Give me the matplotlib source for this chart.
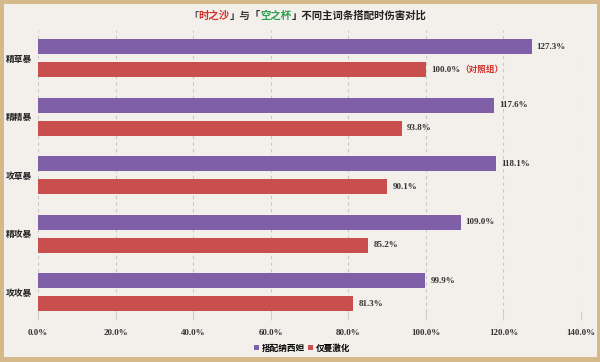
import numpy as np
import matplotlib.pyplot as plt
from matplotlib.patches import Rectangle

plt.rcParams['font.family'] = ['Noto Sans CJK SC', 'DejaVu Sans']

categories = ["精草暴", "精精暴", "攻草暴", "精攻暴", "攻攻暴"]
nahida = [127.3, 117.6, 118.1, 109.0, 99.9]      # 搭配纳西妲
aggravate = [100.0, 93.8, 90.1, 85.2, 81.3]     # 仅蔓激化
xticks = [0, 20, 40, 60, 80, 100, 120, 140]

PURPLE = "#7f5fa7"
RED = "#c84f4e"
BG = "#f3f0ec"
FRAME = "#d6b98b"

fig = plt.figure(figsize=(6, 3.62), dpi=100, facecolor=FRAME)
fig.patches.append(Rectangle((4 / 600, 5 / 362), 593 / 600, 353 / 362,
                             transform=fig.transFigure, facecolor=BG,
                             edgecolor="none", zorder=-10))

ax = fig.add_axes([38 / 600, 1 - 312 / 362, 543 / 600, 282 / 362])
ax.set_facecolor("none")

y = np.arange(len(categories))
off, h = 0.197, 0.256
ax.barh(y - off, nahida, height=h, color=PURPLE, label="搭配纳西妲", zorder=3)
ax.barh(y + off, aggravate, height=h, color=RED, label="仅蔓激化", zorder=3)

num_font = dict(family="Liberation Serif", fontweight="bold", fontsize=6.5, color="#333333")
for i in range(len(categories)):
    ax.annotate(f"{nahida[i]:.1f}%", (nahida[i], y[i] - off), xytext=(3.6, 0),
                textcoords="offset points", va="center", ha="left", **num_font)
    t = ax.annotate(f"{aggravate[i]:.1f}%", (aggravate[i], y[i] + off), xytext=(3.6, 0),
                    textcoords="offset points", va="center", ha="left", **num_font)
    if i == 0:
        ax.annotate("（对照组）", xy=(1, 0.5), xycoords=t, xytext=(0, 0),
                    textcoords="offset points", va="center", ha="left",
                    fontsize=6.2, fontweight="bold", color="#d0302c")

ax.set_xlim(0, 140)
ax.set_ylim(4.34, -0.48)
ax.set_xticks(xticks)
ax.set_xticklabels([f"{v:.1f}%" for v in xticks], family="Liberation Serif",
                   fontweight="bold", fontsize=6.5, color="#333333")
ax.tick_params(axis="x", length=6, width=0.8, color="#cccccc", pad=6)
ax.set_yticks(y)
ax.set_yticklabels(categories, fontsize=6.3, fontweight="bold", color="#222222")
ax.tick_params(axis="y", length=0, pad=4)
for s in ax.spines.values():
    s.set_visible(False)
ax.grid(axis="x", color="#c8c8c8", linestyle=(0, (3, 3)), linewidth=0.8, zorder=0)

ax.legend(loc="center", bbox_to_anchor=(302 / 600, 1 - 348 / 362),
          bbox_transform=fig.transFigure, ncol=2, frameon=False,
          handlelength=0.6, handleheight=0.6, handletextpad=0.3, columnspacing=0.4,
          prop=dict(family="Noto Sans CJK SC", weight="bold", size=6.2))

# title in mixed colours, pieces chained left to right
pieces = [("「", "#555555"), ("时之沙", "#d0302c"), ("」与「", "#333333"),
          ("空之杯", "#2a9d4f"), ("」不同主词条搭配时伤害对比", "#222222")]
prev = fig.text(188 / 600, 1 - 16 / 362, pieces[0][0], color=pieces[0][1],
                fontsize=7.5, fontweight="bold", va="center", ha="left")
for txt, col in pieces[1:]:
    prev = ax.annotate(txt, xy=(1, 0), xycoords=prev, va="bottom", ha="left",
                       fontsize=7.5, fontweight="bold", color=col, annotation_clip=False)

fig.savefig("out.png", dpi=100, facecolor=fig.get_facecolor())
